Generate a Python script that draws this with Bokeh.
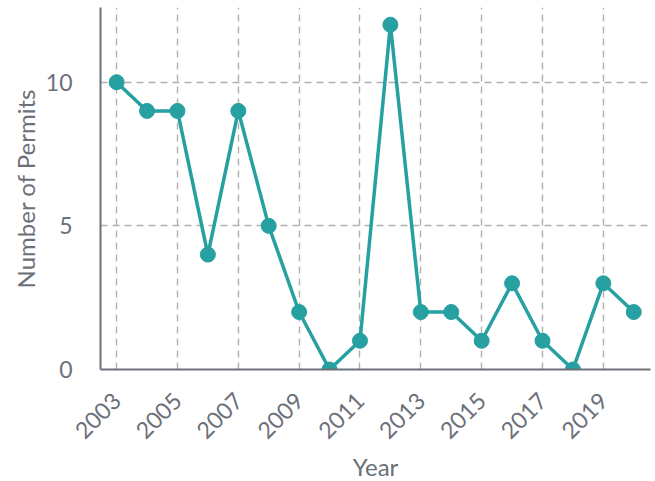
import math
from bokeh.plotting import figure
from bokeh.models import ColumnDataSource, FixedTicker, Range1d
from bokeh.embed import file_html
from bokeh.resources import INLINE

years = [2003, 2004, 2005, 2006, 2007, 2008, 2009, 2010, 2011, 2012,
         2013, 2014, 2015, 2016, 2017, 2018, 2019, 2020]
permits = [10, 9, 9, 4, 9, 5, 2, 0, 1, 12, 2, 2, 1, 3, 1, 0, 3, 2]
x_ticks = [2003, 2005, 2007, 2009, 2011, 2013, 2015, 2017, 2019]
y_ticks = [0, 5, 10]

src = ColumnDataSource(dict(year=years, permits=permits))

p = figure(frame_width=550, frame_height=362, output_backend="svg", toolbar_location=None,
           x_range=Range1d(2002.47, 2020.55), y_range=Range1d(0, 12.6),
           min_border_left=100, min_border_right=5, min_border_top=7, min_border_bottom=104)
p.outline_line_color = None

teal = "#26a0a0"
p.line("year", "permits", source=src, line_color=teal, line_width=3.5)
p.scatter("year", "permits", source=src, size=15, fill_color=teal, line_color=teal)

font = "Lato"
txt = "#6b7079"
axc = "#6b7079"

p.xaxis.ticker = FixedTicker(ticks=x_ticks)
p.yaxis.ticker = FixedTicker(ticks=y_ticks)
p.xaxis.major_label_orientation = math.pi / 4
for ax in (p.xaxis, p.yaxis):
    ax.axis_line_color = axc
    ax.axis_line_width = 2
    ax.major_tick_line_color = None
    ax.minor_tick_line_color = None
    ax.major_label_text_font = font
    ax.major_label_text_font_size = "23px"
    ax.major_label_text_color = txt
    ax.axis_label_text_font = font
    ax.axis_label_text_font_size = "24px"
    ax.axis_label_text_font_style = "normal"
    ax.axis_label_text_color = txt
p.xaxis.axis_label = "Year"
p.yaxis.axis_label = "Number of Permits"
p.yaxis.major_label_standoff = 22
p.xaxis.major_label_standoff = 21
p.xaxis.axis_label_standoff = 3
p.yaxis.axis_label_standoff = 3

for g in (p.xgrid, p.ygrid):
    g.grid_line_color = "#b0b0b0"
    g.grid_line_dash = "7 5"
    g.grid_line_width = 1.4

open("out.html", "w").write(file_html(p, INLINE))
